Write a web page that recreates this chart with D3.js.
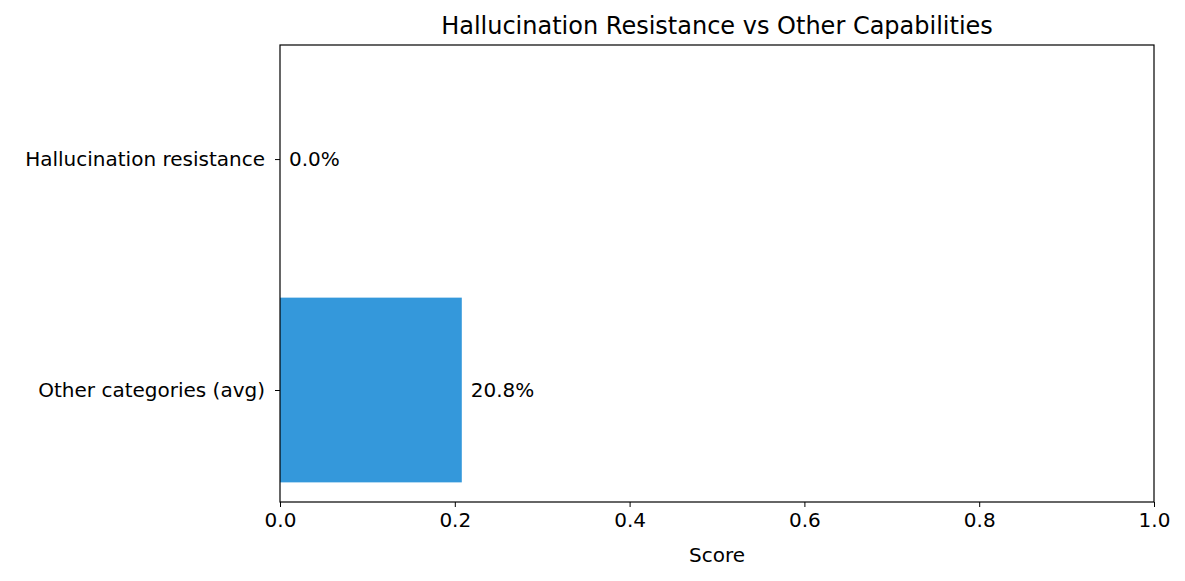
<!DOCTYPE html>
<html>
<head>
<meta charset="utf-8">
<script src="https://cdn.jsdelivr.net/npm/d3@7"></script>
<style>
body { margin: 0; background: #fff; }
text { font-family: "DejaVu Sans", sans-serif; }
</style>
</head>
<body>
<div id="chart"></div>
<script>
const categories = ["Other categories (avg)", "Hallucination resistance"];
const scores = [0.208, 0.0];
const xTicks = [0, 0.2, 0.4, 0.6, 0.8, 1.0];

const width = 1185, height = 581;
const margin = {left: 280, right: 31, top: 45, bottom: 79};
const fs = 20;

const svg = d3.select("#chart").append("svg")
    .attr("width", width)
    .attr("height", height);

const x = d3.scaleLinear().domain([0, 1]).range([margin.left, width - margin.right]);
// category index as position, like matplotlib barh
const y = d3.scaleLinear().domain([-0.485, 1.494]).range([height - margin.bottom, margin.top]);
const barH = 0.8;

svg.append("g").selectAll("rect")
    .data(scores)
    .enter().append("rect")
    .attr("x", x(0))
    .attr("y", (d, i) => y(i + barH / 2))
    .attr("width", d => x(d) - x(0))
    .attr("height", y(0) - y(barH))
    .attr("fill", "#3498db");

svg.append("g").selectAll("text")
    .data(scores)
    .enter().append("text")
    .attr("x", d => x(d) + 9)
    .attr("y", (d, i) => y(i))
    .attr("dy", "0.35em")
    .style("font-size", fs + "px")
    .text(d => (d * 100).toFixed(1) + "%");

// frame
svg.append("rect")
    .attr("x", margin.left).attr("y", margin.top)
    .attr("width", width - margin.left - margin.right)
    .attr("height", height - margin.top - margin.bottom)
    .attr("fill", "none").attr("stroke", "#000").attr("stroke-width", 1.2);

const xAxis = svg.append("g")
    .attr("transform", "translate(0," + (height - margin.bottom) + ")")
    .call(d3.axisBottom(x).tickValues(xTicks).tickFormat(d3.format(".1f")).tickSizeOuter(0).tickSize(5).tickPadding(6));
xAxis.select(".domain").remove();
xAxis.selectAll("text").style("font-size", fs + "px");

const yAxis = svg.append("g")
    .attr("transform", "translate(" + margin.left + ",0)")
    .call(d3.axisLeft(y).tickValues([0, 1]).tickFormat(i => categories[i]).tickSizeOuter(0).tickSize(5).tickPadding(10));
yAxis.select(".domain").remove();
yAxis.selectAll("text").style("font-size", fs + "px");

svg.append("text")
    .attr("x", (margin.left + width - margin.right) / 2)
    .attr("y", 562)
    .attr("text-anchor", "middle")
    .style("font-size", fs + "px")
    .text("Score");

svg.append("text")
    .attr("x", (margin.left + width - margin.right) / 2)
    .attr("y", 34)
    .attr("text-anchor", "middle")
    .style("font-size", "24px")
    .text("Hallucination Resistance vs Other Capabilities");
</script>
</body>
</html>
